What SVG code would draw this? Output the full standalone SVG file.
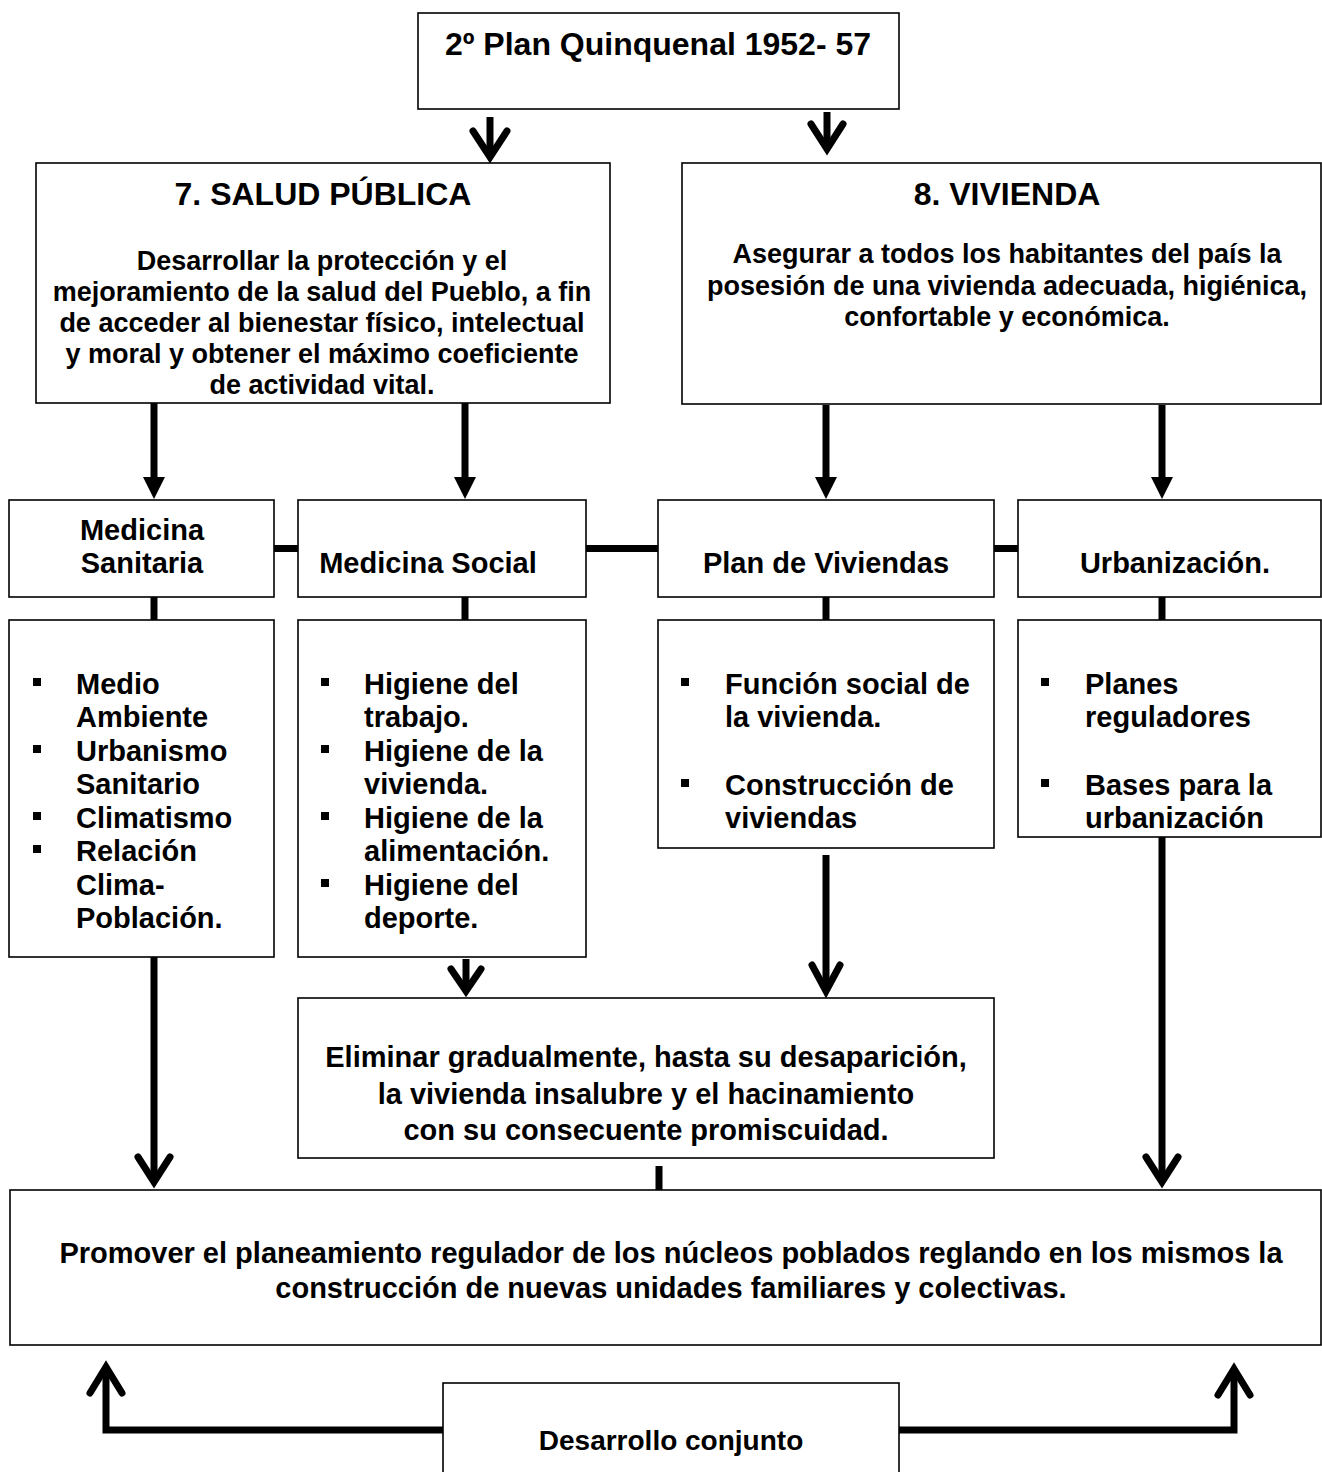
<svg xmlns="http://www.w3.org/2000/svg" width="1322" height="1472" viewBox="0 0 1322 1472">
<style>
.box{fill:#fff;stroke:#000;stroke-width:1.6}
text{font-family:"Liberation Sans",Arial,sans-serif;font-weight:bold;fill:#000}
.t32{font-size:32px}
.t29{font-size:29px}
.t27{font-size:27px}
.t28{font-size:28px}
.c{text-anchor:middle}
.shaft{stroke:#000;stroke-width:7;fill:none;stroke-linejoin:miter}
.chev{stroke:#000;stroke-width:7;fill:none;stroke-linecap:round;stroke-linejoin:miter}
.tri{fill:#000}
.blt{fill:#000}
</style>
<rect width="1322" height="1472" fill="#fff"/>

<g id="connectors">
  <!-- top arrows -->
  <line class="shaft" x1="490" y1="117" x2="490" y2="157"/>
  <path class="chev" d="M473,131 L490,157 L507,131"/>
  <line class="shaft" x1="827" y1="112" x2="827" y2="149"/>
  <path class="chev" d="M811,124 L827,149 L843,124"/>
  <!-- filled arrows to row boxes -->
  <line class="shaft" x1="154" y1="403" x2="154" y2="478"/>
  <polygon class="tri" points="143,477 165,477 154,499"/>
  <line class="shaft" x1="465" y1="403" x2="465" y2="478"/>
  <polygon class="tri" points="454,477 476,477 465,499"/>
  <line class="shaft" x1="826" y1="405" x2="826" y2="478"/>
  <polygon class="tri" points="815,477 837,477 826,499"/>
  <line class="shaft" x1="1162" y1="405" x2="1162" y2="478"/>
  <polygon class="tri" points="1151,477 1173,477 1162,499"/>
  <!-- horizontal links between row boxes -->
  <line class="shaft" x1="274" y1="548.5" x2="298" y2="548.5"/>
  <line class="shaft" x1="586" y1="548.5" x2="658" y2="548.5"/>
  <line class="shaft" x1="994" y1="548.5" x2="1018" y2="548.5"/>
  <!-- stubs to bullet boxes -->
  <line class="shaft" x1="154" y1="597" x2="154" y2="620"/>
  <line class="shaft" x1="465" y1="597" x2="465" y2="620"/>
  <line class="shaft" x1="826" y1="597" x2="826" y2="620"/>
  <line class="shaft" x1="1162" y1="597" x2="1162" y2="620"/>
  <!-- arrows into Eliminar box -->
  <line class="shaft" x1="466" y1="959" x2="466" y2="991"/>
  <path class="chev" d="M451,969 L466,991 L481,969"/>
  <line class="shaft" x1="826" y1="855" x2="826" y2="991"/>
  <path class="chev" d="M812,965 L826,991 L840,965"/>
  <!-- arrows into bottom box -->
  <line class="shaft" x1="154" y1="957" x2="154" y2="1182"/>
  <path class="chev" d="M138,1157 L154,1182 L170,1157"/>
  <line class="shaft" x1="1162" y1="830" x2="1162" y2="1182"/>
  <path class="chev" d="M1146,1157 L1162,1182 L1178,1157"/>
  <line class="shaft" x1="659" y1="1166" x2="659" y2="1190"/>
  <!-- from Desarrollo conjunto up -->
  <path class="shaft" d="M443,1430 L106,1430 L106,1367"/>
  <path class="chev" d="M90,1393 L106,1367 L122,1393"/>
  <path class="shaft" d="M899,1430 L1234,1430 L1234,1369"/>
  <path class="chev" d="M1218,1395 L1234,1369 L1250,1395"/>
</g>

<g id="plan">
  <rect class="box" x="418" y="13" width="481" height="96"/>
  <text class="t32 c" x="658" y="55">2º Plan Quinquenal 1952- 57</text>
</g>

<g id="salud">
  <rect class="box" x="36" y="163" width="574" height="240"/>
  <text class="t32 c" x="323" y="205">7. SALUD PÚBLICA</text>
  <text class="t27 c" x="322" y="270">Desarrollar la protección y el</text>
  <text class="t27 c" x="322" y="301">mejoramiento de la salud del Pueblo, a fin</text>
  <text class="t27 c" x="322" y="332">de acceder al bienestar físico, intelectual</text>
  <text class="t27 c" x="322" y="363">y moral y obtener el máximo coeficiente</text>
  <text class="t27 c" x="322" y="394">de actividad vital.</text>
</g>

<g id="vivienda">
  <rect class="box" x="682" y="163" width="639" height="241"/>
  <text class="t32 c" x="1007" y="205">8. VIVIENDA</text>
  <text class="t27 c" x="1007" y="263">Asegurar a todos los habitantes del país la</text>
  <text class="t27 c" x="1007" y="295">posesión de una vivienda adecuada, higiénica,</text>
  <text class="t27 c" x="1007" y="326">confortable y económica.</text>
</g>

<g id="medicina-sanitaria">
  <rect class="box" x="9" y="500" width="265" height="97"/>
  <text class="t29 c" x="142" y="540">Medicina</text>
  <text class="t29 c" x="142" y="573">Sanitaria</text>
</g>

<g id="medicina-social">
  <rect class="box" x="298" y="500" width="288" height="97"/>
  <text class="t29 c" x="428" y="573">Medicina Social</text>
</g>

<g id="plan-viviendas">
  <rect class="box" x="658" y="500" width="336" height="97"/>
  <text class="t29 c" x="826" y="573">Plan de Viviendas</text>
</g>

<g id="urbanizacion">
  <rect class="box" x="1018" y="500" width="303" height="97"/>
  <text class="t29 c" x="1175" y="573">Urbanización.</text>
</g>

<g id="lista-sanitaria">
  <rect class="box" x="9" y="620" width="265" height="337"/>
  <rect class="blt" x="33" y="678" width="8" height="8"/>
  <rect class="blt" x="33" y="745" width="8" height="8"/>
  <rect class="blt" x="33" y="812" width="8" height="8"/>
  <rect class="blt" x="33" y="845" width="8" height="8"/>
  <text class="t29" x="76" y="694">Medio</text>
  <text class="t29" x="76" y="727">Ambiente</text>
  <text class="t29" x="76" y="761">Urbanismo</text>
  <text class="t29" x="76" y="794">Sanitario</text>
  <text class="t29" x="76" y="828">Climatismo</text>
  <text class="t29" x="76" y="861">Relación</text>
  <text class="t29" x="76" y="895">Clima-</text>
  <text class="t29" x="76" y="928">Población.</text>
</g>

<g id="lista-social">
  <rect class="box" x="298" y="620" width="288" height="337"/>
  <rect class="blt" x="321" y="678" width="8" height="8"/>
  <rect class="blt" x="321" y="745" width="8" height="8"/>
  <rect class="blt" x="321" y="812" width="8" height="8"/>
  <rect class="blt" x="321" y="879" width="8" height="8"/>
  <text class="t29" x="364" y="694">Higiene del</text>
  <text class="t29" x="364" y="727">trabajo.</text>
  <text class="t29" x="364" y="761">Higiene de la</text>
  <text class="t29" x="364" y="794">vivienda.</text>
  <text class="t29" x="364" y="828">Higiene de la</text>
  <text class="t29" x="364" y="861">alimentación.</text>
  <text class="t29" x="364" y="895">Higiene del</text>
  <text class="t29" x="364" y="928">deporte.</text>
</g>

<g id="lista-viviendas">
  <rect class="box" x="658" y="620" width="336" height="228"/>
  <rect class="blt" x="681" y="678" width="8" height="8"/>
  <rect class="blt" x="681" y="779" width="8" height="8"/>
  <text class="t29" x="725" y="694">Función social de</text>
  <text class="t29" x="725" y="727">la vivienda.</text>
  <text class="t29" x="725" y="795">Construcción de</text>
  <text class="t29" x="725" y="828">viviendas</text>
</g>

<g id="lista-urbanizacion">
  <rect class="box" x="1018" y="620" width="303" height="217"/>
  <rect class="blt" x="1041" y="678" width="8" height="8"/>
  <rect class="blt" x="1041" y="779" width="8" height="8"/>
  <text class="t29" x="1085" y="694">Planes</text>
  <text class="t29" x="1085" y="727">reguladores</text>
  <text class="t29" x="1085" y="795">Bases para la</text>
  <text class="t29" x="1085" y="828">urbanización</text>
</g>

<g id="eliminar">
  <rect class="box" x="298" y="998" width="696" height="160"/>
  <text class="t29 c" x="646" y="1067">Eliminar gradualmente, hasta su desaparición,</text>
  <text class="t29 c" x="646" y="1104">la vivienda insalubre y el hacinamiento</text>
  <text class="t29 c" x="646" y="1140">con su consecuente promiscuidad.</text>
</g>

<g id="promover">
  <rect class="box" x="10" y="1190" width="1311" height="155"/>
  <text class="t29 c" x="671" y="1263">Promover el planeamiento regulador de los núcleos poblados reglando en los mismos la</text>
  <text class="t29 c" x="671" y="1298">construcción de nuevas unidades familiares y colectivas.</text>
</g>

<g id="desarrollo">
  <rect class="box" x="443" y="1383" width="456" height="100"/>
  <text class="t28 c" x="671" y="1450">Desarrollo conjunto</text>
</g>
</svg>
